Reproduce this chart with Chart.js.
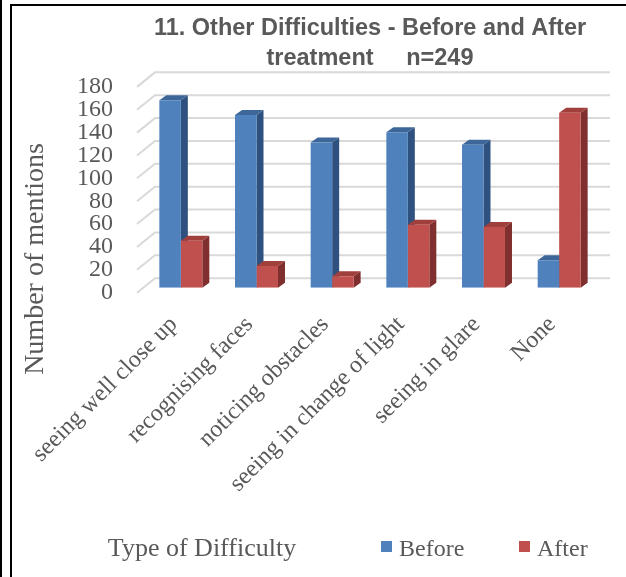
<!DOCTYPE html>
<html>
<head>
  <meta charset="utf-8">
  <title>Other Difficulties - Before and After treatment</title>
  <script src="https://cdn.jsdelivr.net/npm/chart.js"></script>
  <style>
    body { margin: 0; background: #fff; }
    #wrap { position: relative; width: 626px; height: 577px; overflow: hidden; }
    .edge { position: absolute; left: 0; top: 0; width: 2px; height: 577px; background: #000; }
    .frame { position: absolute; left: 10px; top: 4px; width: 640px; height: 600px; border-left: 2px solid #000; border-top: 2px solid #000; }
    canvas { position: absolute; left: 0; top: 0; }
  </style>
</head>
<body>
<div id="wrap">
  <div class="edge"></div>
  <div class="frame"></div>
  <canvas id="myChart" width="626" height="577"></canvas>
</div>
<script>
  // Categorias y valores
  var difficulties = ['seeing well close up', 'recognising faces', 'noticing obstacles',
                      'seeing in change of light', 'seeing in glare', 'None'];
  var before = [164, 151, 127, 136, 125, 24];
  var after = [41, 19, 10, 55, 53, 153];
  var yMax = 180;
  var yStep = 20;

  var serif = '"Liberation Serif", "Times New Roman", serif';
  var grey = '#595959';

  // profundidad de las columnas y del muro del fondo
  var DX = 7, DY = 5;

  var bars3d = {
    id: 'bars3d',
    beforeDatasetsDraw: function(chart) {
      var ctx = chart.ctx, area = chart.chartArea, y = chart.scales.y;
      ctx.save();
      // lineas del muro con el borde inclinado del piso
      ctx.strokeStyle = '#d9d9d9';
      ctx.lineWidth = 2;
      y.ticks.forEach(function(t) {
        var py = y.getPixelForValue(t.value);
        ctx.beginPath();
        ctx.moveTo(area.left - 6, py + 5);
        ctx.lineTo(area.left + 12, py - 9.5);
        ctx.lineTo(area.right + 13, py - 9.5);
        ctx.stroke();
      });
      // lados y tapas, el frente lo dibuja Chart.js encima
      chart.data.datasets.forEach(function(ds, i) {
        chart.getDatasetMeta(i).data.forEach(function(bar) {
          var p = bar.getProps(['x', 'y', 'base', 'width'], true);
          var l = p.x - p.width / 2, r = p.x + p.width / 2;
          ctx.fillStyle = ds.sideColor;
          ctx.beginPath();
          ctx.moveTo(r, p.y);
          ctx.lineTo(r + DX, p.y - DY);
          ctx.lineTo(r + DX, p.base - DY);
          ctx.lineTo(r, p.base);
          ctx.closePath();
          ctx.fill();
          ctx.fillStyle = ds.topColor;
          ctx.beginPath();
          ctx.moveTo(l, p.y);
          ctx.lineTo(l + DX, p.y - DY);
          ctx.lineTo(r + DX, p.y - DY);
          ctx.lineTo(r, p.y);
          ctx.closePath();
          ctx.fill();
        });
      });
      ctx.restore();
    },
    afterDraw: function(chart) {
      var ctx = chart.ctx;
      ctx.save();
      ctx.fillStyle = grey;
      ctx.textBaseline = 'alphabetic';

      // titulo del eje Y
      ctx.save();
      ctx.translate(43, 259);
      ctx.rotate(-Math.PI / 2);
      ctx.font = '28px ' + serif;
      ctx.textAlign = 'center';
      ctx.fillText('Number of mentions', 0, 0);
      ctx.restore();

      // titulo del eje X
      ctx.font = '26px ' + serif;
      ctx.textAlign = 'center';
      ctx.fillText('Type of Difficulty', 202, 556);

      // leyenda
      var items = [[381, 0], [519, 1]];
      ctx.font = '24px ' + serif;
      ctx.textAlign = 'left';
      items.forEach(function(it) {
        var ds = chart.data.datasets[it[1]];
        ctx.fillStyle = ds.backgroundColor;
        ctx.fillRect(it[0], 541, 11, 11);
        ctx.fillStyle = grey;
        ctx.fillText(ds.label, it[0] + 18, 556);
      });
      ctx.restore();
    }
  };

  var ctx = document.getElementById('myChart').getContext('2d');
  var myChart = new Chart(ctx, {
    type: 'bar',
    data: {
      labels: difficulties,
      datasets: [{
        label: 'Before',
        data: before,
        backgroundColor: '#4f81bd',
        sideColor: '#2f5180',
        topColor: '#3d6799',
        categoryPercentage: 0.568,
        barPercentage: 1
      }, {
        label: 'After',
        data: after,
        backgroundColor: '#c0504d',
        sideColor: '#7f2f2d',
        topColor: '#a03f3c',
        categoryPercentage: 0.568,
        barPercentage: 1
      }]
    },
    options: {
      responsive: false,
      animation: false,
      layout: { padding: { left: 0, right: 29, top: 0, bottom: 0 } },
      plugins: {
        legend: { display: false },
        tooltip: { enabled: false },
        title: {
          display: true,
          text: ['11. Other Difficulties - Before and After', 'treatment     n=249'],
          fullSize: false,
          color: grey,
          font: { family: '"Liberation Sans", Arial, sans-serif', size: 23.5, weight: 'bold', lineHeight: 1.28 },
          padding: { top: 13, bottom: 8.7 }
        }
      },
      scales: {
        x: {
          grid: { display: false, drawTicks: false },
          border: { display: false },
          ticks: {
            color: grey,
            font: { family: serif, size: 24 },
            minRotation: 45,
            maxRotation: 45,
            autoSkip: false,
            padding: 23,
            labelOffset: -7
          },
          afterFit: function(s) { s.height = 289.3; }
        },
        y: {
          min: 0,
          max: yMax,
          grid: { display: false, drawTicks: false },
          border: { display: false },
          ticks: {
            stepSize: yStep,
            autoSkip: false,
            color: grey,
            font: { family: serif, size: 24 },
            padding: 30,
            labelOffset: 5
          },
          afterFit: function(s) { s.width = 143; }
        }
      }
    },
    plugins: [bars3d]
  });
</script>
</body>
</html>
